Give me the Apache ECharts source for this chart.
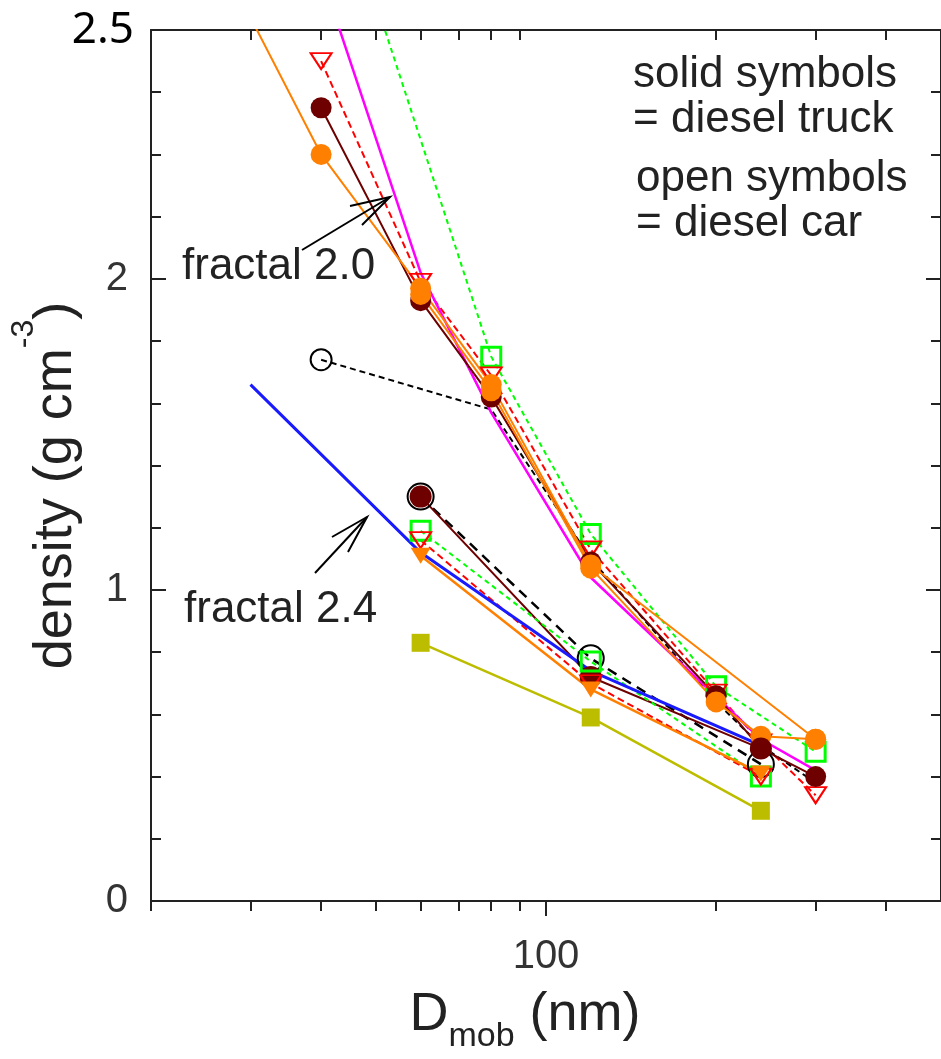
<!DOCTYPE html>
<html><head><meta charset="utf-8">
<script src="https://cdn.jsdelivr.net/npm/echarts@6/dist/echarts.min.js"></script>
<style>html,body{margin:0;padding:0;background:#fff}#c{width:941px;height:1059px}</style>
</head><body><div id="c"></div><script>
// ---- axis ticks / labels ----
const xMinorTicks = [20, 30, 40, 50, 60, 70, 80, 90, 200, 300, 400];
const xMajorTicks = [100];
const xLabelValues = [100];
const yMinorTicks = [0.2, 0.4, 0.6, 0.8, 1.2, 1.4, 1.6, 1.8, 2.2, 2.4, 2.6, 2.8];
const yMajorTicks = [0, 1, 2];
const yLabelValues = [0, 1, 2];
const yTopLabelValues = [2.8];
const yTopLabelText = '2.5';

// ---- data: mobility diameter (nm) and effective density (g cm^-3) ----
// diesel truck (solid symbols)
const orangeA_D = [30, 40, 60, 80, 120, 300];
const orangeA_rho = [2.84, 2.40, 1.97, 1.66, 1.08, 0.52];
const orangeB_D = [60, 80, 120, 200, 240, 300];
const orangeB_rho = [1.95, 1.64, 1.07, 0.64, 0.53, 0.52];
const maroon_D = [40, 60, 80, 120, 200, 240, 300];
const maroon_rho = [2.55, 1.93, 1.62, 1.09, 0.66, 0.49, 0.40];
const maroonLow_D = [60, 120, 240];
const maroonLow_rho = [1.30, 0.72, 0.49];
const orangeTri_D = [60, 120, 240];
const orangeTri_rho = [1.11, 0.68, 0.41];
const olive_D = [60, 120, 240];
const olive_rho = [0.83, 0.59, 0.29];
// diesel car (open symbols)
const redOpen_D = [40, 60, 80, 120, 200, 240, 300];
const redOpen_rho = [2.70, 1.99, 1.69, 1.13, 0.67, 0.51, 0.34];
const greenOpen_D = [40, 80, 120, 200, 300];
const greenOpen_rho = [3.43, 1.75, 1.18, 0.69, 0.48];
const blackOpen_D = [40, 80, 120, 200, 240, 300];
const blackOpen_rho = [1.74, 1.58, 1.10, 0.64, 0.50, 0.38];
const blackOpenLow_D = [60, 120, 240];
const blackOpenLow_rho = [1.30, 0.78, 0.44];
const greenOpenLow_D = [60, 120, 240];
const greenOpenLow_rho = [1.19, 0.77, 0.40];
const redOpenLow_D = [60, 120, 240];
const redOpenLow_rho = [1.16, 0.70, 0.40];
// fractal reference lines
const fractal20_D = [40, 60, 80, 120, 240, 300];
const fractal20_rho = [2.98, 2.02, 1.57, 1.04, 0.52, 0.42];
const fractal24_D = [30, 60, 120, 240];
const fractal24_rho = [1.66, 1.12, 0.74, 0.50];

const FONT = '"Liberation Sans", Arial, sans-serif';
const pairs = (D, r) => D.map((d, i) => [d, r[i]]);

function line(name, D, rho, o) {
  let sym = o.symbol || 'none';
  if (o.firstOnly) { const s = sym; sym = (v, p) => (p.dataIndex === 0 ? s : 'none'); }
  return {
    name, type: 'line', data: pairs(D, rho), clip: true,
    xAxisIndex: 0, yAxisIndex: 0,
    symbol: sym, symbolSize: o.size || 20, symbolRotate: o.rotate || 0,
    showSymbol: !!o.symbol,
    lineStyle: { color: o.color, width: o.width || 2, type: o.dash || 'solid' },
    itemStyle: o.open
      ? { color: 'rgba(255,255,255,0)', borderColor: o.color, borderWidth: o.bw || 2.5, opacity: 1 }
      : { color: o.color, borderColor: o.border || o.color, borderWidth: o.bw || 0 },
    emphasis: { disabled: true }, z: o.z || 2
  };
}

const series = [
  line('car black', blackOpen_D, blackOpen_rho, { color: '#000', symbol: 'circle', firstOnly: true, open: true, size: 21, dash: [6, 4], bw: 2 }),
  line('car green', greenOpen_D, greenOpen_rho, { color: '#00ff00', symbol: 'rect', open: true, size: 19, dash: [5, 4], bw: 3 }),
  line('car red', redOpen_D, redOpen_rho, { color: '#ff0000', symbol: 'triangle', rotate: 180, open: true, size: [21, 16], dash: [7, 4], bw: 2 }),
  line('fractal 2.0', fractal20_D, fractal20_rho, { color: '#ff00ff', width: 2.5 }),
  line('truck maroon', maroon_D, maroon_rho, { color: '#6e0000', symbol: 'circle', size: 21 }),
  line('truck orange B', orangeB_D, orangeB_rho, { color: '#ff8000', symbol: 'circle', size: 21 }),
  line('truck orange A', orangeA_D, orangeA_rho, { color: '#ff8000', symbol: 'circle', size: 21 }),
  line('car black low', blackOpenLow_D, blackOpenLow_rho, { color: '#000', symbol: 'circle', open: true, size: 26, dash: [10, 7], width: 2.5, bw: 2 }),
  line('truck maroon low', maroonLow_D, maroonLow_rho, { color: '#6e0000', symbol: 'circle', size: 22 }),
  line('car green low', greenOpenLow_D, greenOpenLow_rho, { color: '#00ff00', symbol: 'rect', open: true, size: 19, dash: [5, 4], bw: 3 }),
  line('car red low', redOpenLow_D, redOpenLow_rho, { color: '#ff0000', symbol: 'triangle', rotate: 180, open: true, size: [21, 16], dash: [7, 4], bw: 2 }),
  line('truck olive', olive_D, olive_rho, { color: '#bdbd00', symbol: 'rect', size: 18, width: 2.5 }),
  line('truck orange tri', orangeTri_D, orangeTri_rho, { color: '#ff8000', symbol: 'triangle', rotate: 180, size: [20, 16], width: 2.5 }),
  line('fractal 2.4', fractal24_D, fractal24_rho, { color: '#1a1aff', width: 3 })
];

const axisLineStyle = { show: true, onZero: false, lineStyle: { color: '#222', width: 2 } };
function xAx(pos, ticks, len, inside, extra) {
  return Object.assign({
    type: 'log', logBase: 10, min: 20, max: 500, position: pos, gridIndex: 0,
    axisLine: axisLineStyle, splitLine: { show: false }, minorTick: { show: false },
    axisTick: { show: true, inside, length: len, customValues: ticks, lineStyle: { color: '#222', width: 2 } },
    axisLabel: { show: false }
  }, extra || {});
}
function yAx(pos, ticks, len, extra) {
  return Object.assign({
    type: 'value', min: 0, max: 2.8, position: pos, gridIndex: 0,
    axisLine: axisLineStyle, splitLine: { show: false }, minorTick: { show: false },
    axisTick: { show: true, inside: true, length: len, customValues: ticks, lineStyle: { color: '#222', width: 2 } },
    axisLabel: { show: false }
  }, extra || {});
}

const option = {
  animation: false,
  backgroundColor: '#fff',
  grid: { left: 147, right: 0, top: 30, bottom: 152 },
  xAxis: [
    xAx('bottom', xMinorTicks, 10, false, {
      axisLabel: { show: true, customValues: xLabelValues, fontFamily: FONT, fontSize: 40, color: '#333', margin: 36 },
      name: '{m|D}{s|mob}{m| (nm)}', nameLocation: 'middle', nameGap: 75,
      nameTextStyle: {
        padding: [0, 42, 0, 0],
        rich: {
          m: { fontFamily: FONT, fontSize: 54, lineHeight: 78, color: '#222' },
          s: { fontFamily: FONT, fontSize: 34, lineHeight: 34, verticalAlign: 'bottom', color: '#222' }
        }
      }
    }),
    xAx('bottom', xMajorTicks, 15, false, { axisLine: { show: false } }),
    xAx('top', xMinorTicks, 10, true),
    xAx('top', xMajorTicks, 15, true, { axisLine: { show: false } })
  ],
  yAxis: [
    yAx('left', yMinorTicks, 10, {
      axisLabel: { show: true, customValues: yLabelValues, fontFamily: FONT, fontSize: 40, color: '#333', margin: 23, padding: [0, 0, 10, 0] },
      name: '{m|density (g cm}{p|-3}{m|)}', nameLocation: 'middle', nameRotate: 90, nameGap: 47,
      nameTextStyle: {
        padding: [0, 40, 0, 0],
        rich: {
          m: { fontFamily: FONT, fontSize: 54, lineHeight: 96, color: '#222' },
          p: { fontFamily: FONT, fontSize: 32, lineHeight: 32, verticalAlign: 'top', color: '#222' }
        }
      }
    }),
    yAx('left', yMajorTicks, 15, {
      axisLine: { show: false },
      axisLabel: { show: true, customValues: yTopLabelValues, formatter: () => yTopLabelText,
        fontFamily: '"Noto Sans", sans-serif', fontSize: 44, color: '#000', margin: 17 }
    }),
    yAx('right', yMinorTicks, 10),
    yAx('right', yMajorTicks, 15, { axisLine: { show: false } })
  ],
  series,
  graphic: [
    { type: 'text', left: 633, top: 52, z: 100,
      style: { text: 'solid symbols\n= diesel truck', font: '44px ' + FONT, fill: '#222', lineHeight: 45 } },
    { type: 'text', left: 636, top: 156, z: 100,
      style: { text: 'open symbols\n= diesel car', font: '44px ' + FONT, fill: '#222', lineHeight: 45 } },
    { type: 'text', left: 182, top: 244, z: 100,
      style: { text: 'fractal 2.0', font: '44px ' + FONT, fill: '#222', lineHeight: 45 } },
    { type: 'text', left: 184, top: 587, z: 100,
      style: { text: 'fractal 2.4', font: '44px ' + FONT, fill: '#222', lineHeight: 45 } },
    { type: 'polyline', z: 100, shape: { points: [[302, 250], [390, 197]] }, style: { stroke: '#000', lineWidth: 2, fill: null } },
    { type: 'polyline', z: 100, shape: { points: [[350, 206], [390, 197], [362, 225]] }, style: { stroke: '#000', lineWidth: 2, fill: null } },
    { type: 'polyline', z: 100, shape: { points: [[315, 573], [367, 517]] }, style: { stroke: '#000', lineWidth: 2, fill: null } },
    { type: 'polyline', z: 100, shape: { points: [[332, 537], [367, 517], [348, 552]] }, style: { stroke: '#000', lineWidth: 2, fill: null } }
  ]
};

const chart = echarts.init(document.getElementById('c'), null, { renderer: 'canvas' });
chart.setOption(option);
</script></body></html>
